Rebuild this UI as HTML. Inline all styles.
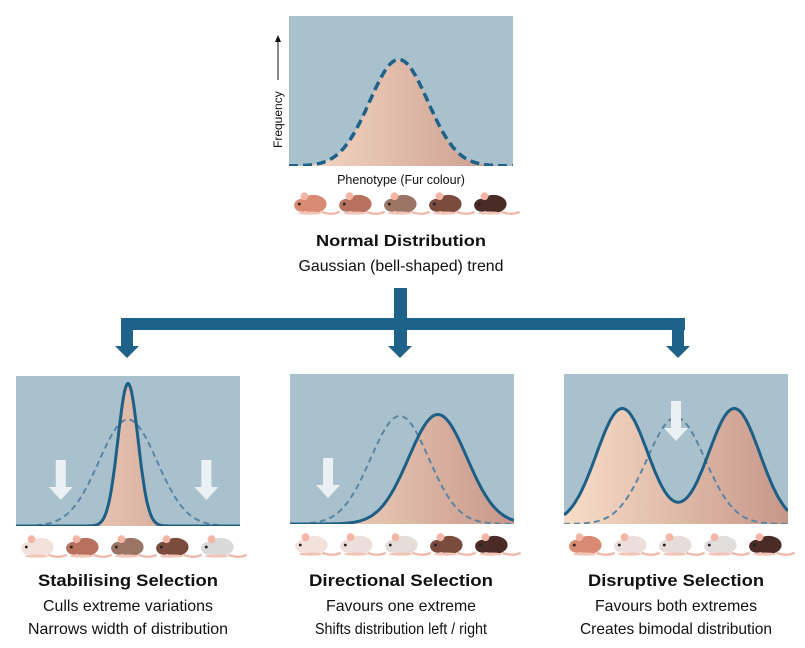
<!DOCTYPE html>
<html><head><meta charset="utf-8"><style>
body{margin:0;background:#fff}
svg{display:block;font-family:"Liberation Sans",sans-serif}
</style></head><body>
<svg id="c" width="805" height="648" viewBox="0 0 805 648">
<defs>
<linearGradient id="fur" x1="0" x2="1" y1="0" y2="0"><stop offset="0" stop-color="#f8ddc8"/><stop offset="1" stop-color="#c7978a"/></linearGradient>
</defs>
<g id="panels"></g>
<g id="arrows" fill="#1e6289">
<rect x="394" y="288" width="13" height="42"/>
<rect x="121" y="318" width="564" height="12"/>
<rect x="121" y="318" width="12" height="30"/>
<rect x="394" y="318" width="13" height="30"/>
<rect x="672" y="318" width="12" height="30"/>
<polygon points="115,346 139,346 127,358"/>
<polygon points="388,346 412,346 400,358"/>
<polygon points="666,346 690,346 678,358"/>
</g>
<g>
<text x="282" y="148" transform="rotate(-90 282 148)" font-size="12" fill="#111">Frequency</text>
<line x1="278" y1="80" x2="278" y2="40" stroke="#111" stroke-width="1"/>
<polygon points="275,42 281,42 278,35" fill="#111"/>
</g>
<text x="401" y="184" text-anchor="middle" font-size="12.5" fill="#111">Phenotype (Fur colour)</text>
<g id="labels" font-size="16" fill="#111" lengthAdjust="spacingAndGlyphs">
<text x="401" y="246" text-anchor="middle" font-weight="bold" font-size="16" textLength="170" lengthAdjust="spacingAndGlyphs">Normal Distribution</text>
<text x="401" y="271" text-anchor="middle" font-size="16" textLength="205" lengthAdjust="spacingAndGlyphs">Gaussian (bell-shaped) trend</text>
<text x="128" y="586" text-anchor="middle" font-weight="bold" font-size="17" textLength="180" lengthAdjust="spacingAndGlyphs">Stabilising Selection</text>
<text x="128" y="611" text-anchor="middle" font-size="16" textLength="170" lengthAdjust="spacingAndGlyphs">Culls extreme variations</text>
<text x="128" y="634" text-anchor="middle" font-size="16" textLength="200" lengthAdjust="spacingAndGlyphs">Narrows width of distribution</text>
<text x="401" y="586" text-anchor="middle" font-weight="bold" font-size="17" textLength="184" lengthAdjust="spacingAndGlyphs">Directional Selection</text>
<text x="401" y="611" text-anchor="middle" font-size="16" textLength="150" lengthAdjust="spacingAndGlyphs">Favours one extreme</text>
<text x="401" y="634" text-anchor="middle" font-size="16" textLength="172" lengthAdjust="spacingAndGlyphs">Shifts distribution left / right</text>
<text x="676" y="586" text-anchor="middle" font-weight="bold" font-size="17" textLength="176" lengthAdjust="spacingAndGlyphs">Disruptive Selection</text>
<text x="676" y="611" text-anchor="middle" font-size="16" textLength="162" lengthAdjust="spacingAndGlyphs">Favours both extremes</text>
<text x="676" y="634" text-anchor="middle" font-size="16" textLength="192" lengthAdjust="spacingAndGlyphs">Creates bimodal distribution</text>
</g>
</svg>
<script>
const panelNames = ['normal','stabilising','directional','disruptive'];
const panelX = [289,16,290,564];
const panelY = [16,376,374,374];
// Curve parameters in phenotype units (0..100 across panel), height as fraction of panel
const dashedCenter = [49,50,49,50];
const dashedSd = [13,13,13,13];
const dashedPeak = [0.71,0.71,0.72,0.71];
const solidCenters = [[],[50],[66],[26,76]];
const solidSd = [[],[4.5],[13],[11.5,11.5]];
const solidPeak = [[],[0.95],[0.73],[0.77,0.77]];
const mouseColors = [
 ['#d98a72','#b8705f','#9b7466','#7b4b3e','#4a2b26'],
 ['#f3e2dc','#b8705f','#9b7466','#7b4b3e','#d9d9d9'],
 ['#f3e2dc','#ecdfdb','#e6dcd8','#7b4b3e','#4a2b26'],
 ['#d98a72','#ecdfdb','#e6dcd8','#e0dedd','#4a2b26']];
const arrowPos = [[],[20,85],[17],[50]];
const W=224,H=150;
const NS='http://www.w3.org/2000/svg';
const root=document.getElementById('panels');
function mk(t,a,p){const e=document.createElementNS(NS,t);for(const k in a)e.setAttribute(k,a[k]);p.appendChild(e);return e;}
function xs(i,v){return panelX[i]+v/100*W;}
function ys(i,f){return panelY[i]+H-f*H;}
function pathFor(i,cs,sds,pks,closed){
 let d='';
 for(let s=0;s<=200;s++){
  const v=s/2;let f=0;
  for(let k=0;k<cs.length;k++)f+=pks[k]*Math.exp(-Math.pow(v-cs[k],2)/(2*sds[k]*sds[k]));
  d+=(s?'L':'M')+xs(i,v).toFixed(1)+','+ys(i,Math.min(f,1)).toFixed(1);
 }
 if(closed)d+='L'+xs(i,100)+','+ys(i,0)+'L'+xs(i,0)+','+ys(i,0)+'Z';
 return d;
}
function mouse(g,cx,cy,col){
 const m=mk('g',{transform:`translate(${cx},${cy}) scale(1.3)`},g);
 
 
 mk('path',{d:`M8,6 q8,3 14,0`,stroke:'#f0b8a8',fill:'none','stroke-width':1.8},m);
 mk('ellipse',{cx:2,cy:0,rx:10,ry:7,fill:col},m);
 mk('ellipse',{cx:-7,cy:1,rx:6,ry:5,fill:col},m);
 mk('circle',{cx:-5,cy:-6,r:3,fill:'#f3b5a5'},m);
 mk('ellipse',{cx:-1,cy:7,rx:9,ry:1.2,fill:'#f3c3b5'},m);
 mk('circle',{cx:-9,cy:0,r:1.1,fill:'#222'},m);
}
for(let i=0;i<4;i++){
 const g=mk('g',{},root);
 
 
 const bg=mk('rect',{x:panelX[i],y:panelY[i],width:W,height:H,fill:'#a9c1cc'},g);
 
 
 const clip=mk('clipPath',{id:'cp'+i},g);
 mk('rect',{x:panelX[i],y:panelY[i],width:W,height:H},clip);
 const cg=mk('g',{'clip-path':`url(#cp${i})`},g);
 if(i===0){
  const f=mk('path',{d:pathFor(i,[dashedCenter[i]],[dashedSd[i]],[dashedPeak[i]],true),fill:'url(#fur)'},cg);
  
  
  const l=mk('path',{d:pathFor(i,[dashedCenter[i]],[dashedSd[i]],[dashedPeak[i]],false),fill:'none',stroke:'#1e6289','stroke-width':3.5,'stroke-dasharray':'9 5'},cg);
  
  
 } else {
  const f=mk('path',{d:pathFor(i,solidCenters[i],solidSd[i],solidPeak[i],true),fill:'url(#fur)'},cg);
  
  
  const dl=mk('path',{d:pathFor(i,[dashedCenter[i]],[dashedSd[i]],[dashedPeak[i]],false),fill:'none',stroke:'#5a86a3','stroke-width':2,'stroke-dasharray':'6 4'},cg);
  
  
  const sl=mk('path',{d:pathFor(i,solidCenters[i],solidSd[i],solidPeak[i],false),fill:'none',stroke:'#1e5f86','stroke-width':3},cg);
  
  
  for(const a of arrowPos[i]){
   const ax=xs(i,a),top=i===3?panelY[i]+27:panelY[i]+84;
   const ar=mk('path',{d:`M${ax-5},${top} h10 v27 h7 l-12,13 l-12,-13 h7 z`,fill:'#eaf0f3'},cg);
   
   
  }
 }
 const my=i===0?204:panelY[i]+H+21;
 for(let k=0;k<5;k++)mouse(g,panelX[i]+22+k*45,my,mouseColors[i][k]);
}
</script>
</body></html>
